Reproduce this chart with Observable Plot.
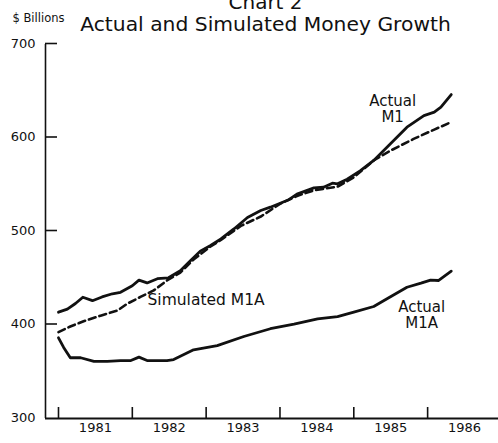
<!DOCTYPE html>
<html>
<head>
<meta charset="utf-8">
<script src="https://cdn.jsdelivr.net/npm/d3@7"></script>
<script src="https://cdn.jsdelivr.net/npm/@observablehq/plot@0.6"></script>
<style>
  html, body { margin: 0; padding: 0; background: #fff; }
  #chart svg { display: block; font-family: "DejaVu Sans", sans-serif; }
</style>
</head>
<body>
<div id="chart"></div>
<script>
// ---- Data (x = decimal year) ----
const m1Years = [1981.00,1981.12,1981.23,1981.33,1981.46,1981.59,1981.73,1981.84,1982.00,1982.09,1982.20,1982.34,1982.49,1982.65,1982.79,1982.92,1983.06,1983.20,1983.38,1983.56,1983.74,1983.87,1984.12,1984.23,1984.46,1984.59,1984.71,1984.78,1984.91,1985.09,1985.27,1985.50,1985.72,1985.95,1986.09,1986.18,1986.32];
const m1Values = [413.7,417,423,429.7,426,430,433.4,435,442,448,445,449.5,450.5,458,469,479,485,492,503,515,522.5,526,534,540,546.7,547.4,551.7,551,556,565,576,594,611.6,624,627.6,633,646.5];

const simYears = [1981.00,1981.16,1981.34,1981.57,1981.80,1981.93,1982.11,1982.29,1982.47,1982.65,1982.83,1983.06,1983.20,1983.47,1983.74,1984.01,1984.23,1984.46,1984.78,1985.00,1985.27,1985.50,1985.81,1986.09,1986.32];
const simValues = [392.3,398.4,404,410,415.5,422.7,430,437,447.6,456,470,484,491,506,516,530,538,544,548,558,576,586.6,599,609,617];

const m1aYears = [1981.00,1981.07,1981.16,1981.30,1981.48,1981.66,1981.84,1981.98,1982.09,1982.20,1982.47,1982.56,1982.83,1983.15,1983.51,1983.87,1984.19,1984.51,1984.78,1985.00,1985.27,1985.45,1985.72,1985.91,1986.04,1986.15,1986.32];
const m1aValues = [386.3,376,365,365,361,361,362,362,365.6,362,362,363,373.5,378,387.7,396,401,406.6,409,413.7,419.8,428,440.4,444.7,448,447.6,457.6];

const yTicks = [300, 400, 500, 600, 700];
const yearBoundaries = [1981, 1982, 1983, 1984, 1985, 1986];
const yearLabels = ["1981", "1982", "1983", "1984", "1985", "1986"];

const titleText = "Actual and Simulated Money Growth";
const chartNumber = "Chart 2";
const unitText = "$ Billions";

const labelTexts = ["Actual\nM1", "Simulated M1A", "Actual\nM1A"];
const labelX = [1985.526, 1982.206, 1985.92];
const labelY = [616.6, 421.9, 396.3];
const labelAnchor = ["middle", "start", "middle"];

// ---- Build tables ----
const m1 = m1Years.map((t, i) => ({t, v: m1Values[i]}));
const sim = simYears.map((t, i) => ({t, v: simValues[i]}));
const m1a = m1aYears.map((t, i) => ({t, v: m1aValues[i]}));
const labels = labelTexts.map((text, i) => ({text, x: labelX[i], y: labelY[i], anchor: labelAnchor[i]}));
const midYears = yearBoundaries.map(y => y + 0.5);

const xDomain = [1980.824, 1986.96];

const chart = Plot.plot({
  width: 498,
  height: 443,
  marginTop: 44,
  marginBottom: 25,
  marginLeft: 45,
  marginRight: 0,
  style: {fontFamily: "DejaVu Sans, sans-serif", color: "#111", background: "#fff"},
  x: {domain: xDomain},
  y: {domain: [300, 700]},
  marks: [
    // axis lines
    Plot.ruleX([xDomain[0]], {stroke: "#111", strokeWidth: 1.6}),
    Plot.ruleY([300], {stroke: "#111", strokeWidth: 1.8}),
    // y axis: inward ticks, labels to left
    Plot.axisY(yTicks.slice(1), {tickSize: -12, tickPadding: 22, fontSize: 13, stroke: "#111", strokeWidth: 1.6, fill: "#111", tickFormat: d => String(d), dy: -1}),
    Plot.axisY([300], {tickSize: 0, tickPadding: 10, fontSize: 13, fill: "#111", tickFormat: d => String(d), dy: -1}),
    // x axis: inward ticks at year boundaries, labels at mid-year
    Plot.axisX(yearBoundaries, {tickSize: -11, stroke: "#111", strokeWidth: 1.6, tickFormat: () => ""}),
    Plot.axisX(midYears, {tickSize: 0, tickPadding: 4, fontSize: 13, fill: "#111", tickFormat: (d, i) => yearLabels[i]}),
    // data lines
    Plot.line(sim, {x: "t", y: "v", stroke: "#111", strokeWidth: 2.6, strokeDasharray: "7,4"}),
    Plot.line(m1, {x: "t", y: "v", stroke: "#111", strokeWidth: 2.8, strokeLinejoin: "round"}),
    Plot.line(m1a, {x: "t", y: "v", stroke: "#111", strokeWidth: 2.8, strokeLinejoin: "round"}),
    // series labels
    Plot.text(labels.filter(d => d.anchor === "middle"), {x: "x", y: "y", text: "text", textAnchor: "middle", lineAnchor: "bottom", lineHeight: 1.07, fontSize: 15, fill: "#111"}),
    Plot.text(labels.filter(d => d.anchor === "start"), {x: "x", y: "y", text: "text", textAnchor: "start", lineAnchor: "bottom", fontSize: 15.5, fill: "#111"}),
    // titles
    Plot.text([chartNumber], {frameAnchor: "top-left", dx: 220, dy: -36, textAnchor: "middle", lineAnchor: "bottom", fontSize: 20, fill: "#111"}),
    Plot.text([titleText], {frameAnchor: "top-left", dx: 220, dy: -14, textAnchor: "middle", lineAnchor: "bottom", fontSize: 20.3, fill: "#111"}),
    Plot.text([unitText], {frameAnchor: "top-left", dx: -33, dy: -22.5, textAnchor: "start", lineAnchor: "bottom", fontSize: 11.5, fill: "#111"})
  ]
});
document.getElementById("chart").appendChild(chart);
</script>
</body>
</html>
